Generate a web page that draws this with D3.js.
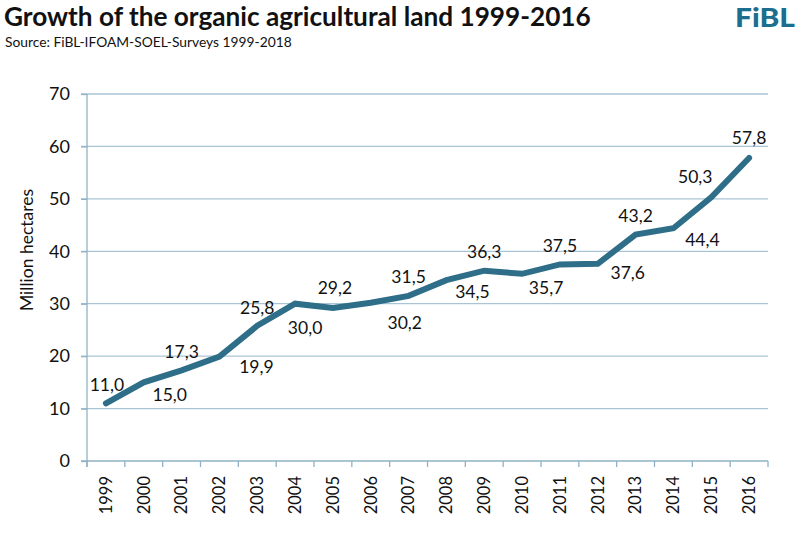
<!DOCTYPE html>
<html><head><meta charset="utf-8">
<script src="https://cdn.jsdelivr.net/npm/d3@7/dist/d3.min.js"></script>
<style>body{margin:0;background:#fff}svg{display:block}text{font-family:Lato,"Open Sans",sans-serif;fill:#111}</style>
</head><body><svg id="c" width="800" height="535"></svg>
<script>
const years = ["1999","2000","2001","2002","2003","2004","2005","2006","2007","2008","2009","2010","2011","2012","2013","2014","2015","2016"];
const hectares = [11.0,15.0,17.3,19.9,25.8,30.0,29.2,30.2,31.5,34.5,36.3,35.7,37.5,37.6,43.2,44.4,50.3,57.8];
const labelTexts = ["11,0","15,0","17,3","19,9","25,8","30,0","29,2","30,2","31,5","34,5","36,3","35,7","37,5","37,6","43,2","44,4","50,3","57,8"];
const yTicks = [0,10,20,30,40,50,60,70];

const svg = d3.select("#c");
const x = d3.scaleBand().domain(years).range([87,768]).padding(0);
const y = d3.scaleLinear().domain([0,70]).range([461,94]);
const gridCol = "#a9c5d5", axisCol = "#8fb2c6", lineCol = "#2f6e88";

// title
svg.append("text").attr("x",4).attr("y",26).attr("font-size",26.2).attr("font-weight",700)
  .text("Growth of the organic agricultural land 1999-2016");
svg.append("text").attr("x",5).attr("y",47).attr("font-size",13.8)
  .text("Source: FiBL-IFOAM-SOEL-Surveys 1999-2018");
svg.append("text").attr("x",735).attr("y",27).attr("font-size",27)
  .attr("font-weight",900).style("fill","#1c6e8e").attr("textLength",60).attr("lengthAdjust","spacingAndGlyphs").text("FiBL");

// grid
svg.append("g").selectAll("line").data(yTicks.filter(d=>d>0)).join("line")
  .attr("x1",81).attr("x2",768).attr("y1",d=>y(d)).attr("y2",d=>y(d))
  .attr("stroke",gridCol).attr("stroke-width",1.3);

// y axis
const ya = svg.append("g").attr("transform","translate(87,0)")
  .call(d3.axisLeft(y).tickValues(yTicks).tickSize(6).tickPadding(11).tickFormat(d3.format("d")));
ya.select(".domain").attr("stroke",axisCol).attr("stroke-width",1.3).attr("d","M0,94V467");
ya.selectAll(".tick line").attr("stroke",axisCol).attr("stroke-width",1.3);
ya.selectAll(".tick text").attr("font-size",18).style("font-family","Lato,sans-serif").attr("fill","#111");

// x axis
const xa = svg.append("g").attr("transform","translate(0,461)")
  .call(d3.axisBottom(x).tickSize(0).tickPadding(0));
xa.select(".domain").attr("stroke",axisCol).attr("stroke-width",1.3).attr("d","M81,0H768");
xa.selectAll(".tick text").attr("font-size",16.5).style("font-family","Lato,sans-serif").attr("fill","#111")
  .attr("transform","rotate(-90)").attr("text-anchor","end").attr("x",-15).attr("y",0).attr("dy","0.35em");
const bounds = years.map(d=>x(d)).concat([x(years[years.length-1])+x.bandwidth()]);
svg.append("g").selectAll("line").data(bounds).join("line")
  .attr("x1",d=>d).attr("x2",d=>d).attr("y1",461).attr("y2",467)
  .attr("stroke",axisCol).attr("stroke-width",1.3);

// y title
svg.append("text").attr("transform","translate(33,250) rotate(-90)").attr("text-anchor","middle")
  .attr("font-size",17.5).text("Million hectares");

// line
const cx = d=>x(d)+x.bandwidth()/2;
svg.append("path").datum(hectares)
  .attr("d",d3.line().x((d,i)=>cx(years[i])).y(d=>y(d)))
  .attr("fill","none").attr("stroke",lineCol).attr("stroke-width",6).attr("stroke-linecap","round").attr("stroke-linejoin","miter");

// data labels (nudges as placed in reference)
const nudgeX = [1,26,0,37,0,10,2,34,0,26,0,24,0,30,0,29,-16,0];
const nudgeY = [-18,13,-18,10,-18,24,-20,20,-19,12,-19,14,-19,9,-19,12,-20,-20];
svg.append("g").selectAll("text").data(hectares).join("text")
  .attr("x",(d,i)=>cx(years[i])+nudgeX[i])
  .attr("y",(d,i)=>y(d)+nudgeY[i])
  .attr("dy","0.35em").attr("text-anchor","middle").attr("font-size",17.5)
  .text((d,i)=>labelTexts[i]);
</script></body></html>
